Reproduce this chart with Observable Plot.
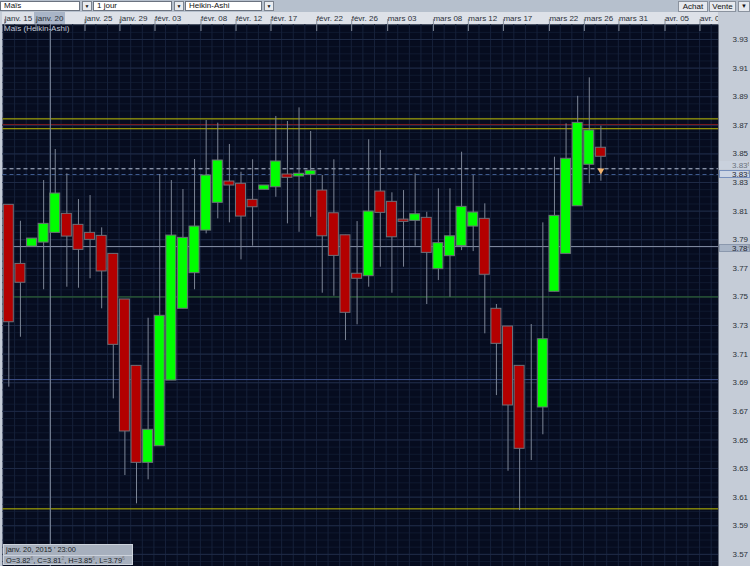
<!DOCTYPE html>
<html><head><meta charset="utf-8">
<script src="https://cdn.jsdelivr.net/npm/d3@7"></script>
<script src="https://cdn.jsdelivr.net/npm/@observablehq/plot@0.6"></script>
<style>
html,body{margin:0;padding:0;}
body{width:750px;height:566px;overflow:hidden;background:#c5ccd7;font-family:"Liberation Sans",Arial,sans-serif;font-size:8px;color:#111;position:relative;}
#toolbar{position:absolute;left:0;top:0;width:750px;height:12px;background:#b6c0cd;}
.dd{position:absolute;top:1px;height:10px;background:#fff;border:1px solid #6b7380;box-sizing:border-box;line-height:8px;padding-left:3px;white-space:nowrap;}
.arr{position:absolute;top:1px;height:10px;width:10px;background:#e9ecf0;border:1px solid #7a828e;box-sizing:border-box;font-size:5px;line-height:8px;text-align:center;}
.btn{position:absolute;top:1px;height:11px;background:#e6e9ee;border:1px solid #8a929e;box-sizing:border-box;line-height:9px;text-align:center;}
#chart{position:absolute;left:0;top:12px;width:750px;height:554px;}
#hdr{position:absolute;left:2px;top:0;width:716px;height:12px;background:#dde1e8;}
#hl{position:absolute;top:0;height:12px;background:#a9b5c7;}
#cover{position:absolute;left:718px;top:0;width:32px;height:12px;background:#c5ccd7;z-index:3;}
#chart svg{position:absolute;left:0;top:0;z-index:2;}
.pbox{position:absolute;left:719px;width:31px;height:8px;box-sizing:border-box;line-height:7px;padding-left:12px;z-index:3;white-space:nowrap;overflow:hidden;}
.pbox sup,.info sup{font-size:5px;vertical-align:top;line-height:5px;color:#777;}
.info{position:absolute;left:3px;top:532px;width:130px;height:21px;background:#a7b0be;border:1px solid #cdd3dc;box-sizing:border-box;z-index:3;color:#1b1f26;font-size:7.4px;}
.info div{height:9.5px;line-height:9.5px;padding-left:2px;white-space:nowrap;}
.info div+div{border-top:1px solid #cdd3dc;}
</style>
</head><body>
<div id="toolbar"></div>
<div id="chart"><div id="hdr"></div><div id="hl"></div><div id="cover"></div></div>
<script>
// ---- data (Heikin-Ashi candles) ----
const open  = [3.8144,3.7731,3.7852,3.7880,3.7948,3.8081,3.8004,3.7948,3.7927,3.7801,3.7482,3.7018,3.6340,3.6456,3.6915,3.7417,3.7666,3.7964,3.8158,3.8307,3.8291,3.8179,3.8249,3.8267,3.8356,3.8342,3.8354,3.8244,3.8085,3.7931,3.7662,3.7645,3.8237,3.8165,3.8041,3.8032,3.8053,3.7694,3.7785,3.7855,3.7992,3.8046,3.7417,3.7293,3.7018,3.6727,3.6727,3.7536,3.7801,3.8134,3.8424,3.8543];
const close = [3.7323,3.7599,3.7908,3.8011,3.8223,3.7922,3.7829,3.7899,3.7678,3.7165,3.6559,3.6340,3.6571,3.7368,3.7929,3.7913,3.7992,3.8349,3.8454,3.8279,3.8062,3.8127,3.8279,3.8447,3.8333,3.8361,3.8382,3.7924,3.7787,3.7389,3.7627,3.8097,3.8088,3.7917,3.8025,3.8078,3.7808,3.7876,3.7924,3.8130,3.8090,3.7655,3.7172,3.6741,3.6438,3.6727,3.7204,3.8067,3.8466,3.8717,3.8664,3.8480];
const high  = [3.8144,3.8029,3.7908,3.8314,3.8531,3.8361,3.8181,3.8209,3.7983,3.7801,3.7482,3.7018,3.7351,3.8356,3.8314,3.8251,3.8461,3.8734,3.8715,3.8566,3.8372,3.8459,3.8279,3.8762,3.8727,3.8822,3.8657,3.8349,3.8459,3.7931,3.8027,3.8599,3.8524,3.8228,3.8244,3.8361,3.8092,3.8256,3.8256,3.8512,3.8349,3.8151,3.7447,3.7293,3.7018,3.7307,3.8018,3.8477,3.8710,3.8903,3.9032,3.8694];
const low   = [3.6869,3.7218,3.7852,3.7550,3.7948,3.7568,3.7561,3.7627,3.7417,3.6787,3.6251,3.6053,3.6221,3.6456,3.6915,3.7417,3.7550,3.7941,3.8046,3.8018,3.7759,3.7855,3.8249,3.8197,3.8011,3.7952,3.8057,3.7526,3.7505,3.7195,3.7305,3.7568,3.7708,3.7526,3.7708,3.7855,3.7447,3.7615,3.7498,3.7824,3.7817,3.7242,3.6810,3.6281,3.6006,3.6356,3.6536,3.7536,3.7801,3.8134,3.8291,3.8309];

// date header: tick positions (in candle slots) and labels
const dateTickPos = [0.05,2.74,6.96,9.97,12.99,16.95,19.97,22.98,26.92,29.93,33.03,36.97,39.98,43.0,46.96,49.97,52.95,56.92,59.93];
const dateTickLabels = ["janv. 15","janv. 20","janv. 25","janv. 29","févr. 03","févr. 08","févr. 12","févr. 17","févr. 22","févr. 26","mars 03","mars 08","mars 12","mars 17","mars 22","mars 26","mars 31","avr. 05","avr. 09"];
const selectedDate = "janv. 20";

// price axis
const priceTicks = [3.57,3.59,3.61,3.63,3.65,3.67,3.69,3.71,3.73,3.75,3.77,3.79,3.81,3.83,3.85,3.87,3.89,3.91,3.93];

// horizontal levels
const yellowLevels = [3.8745, 3.8676, 3.6018];
const redLevels = [3.8706];
const greenLevels = [3.75];
const blueLevels = [3.6922];
const grayLevels = [3.7852];
const bidLevel = [3.8396];
const askLevel = [3.8356];

// price tags on the axis
const tagValues = [3.8396, 3.8356, 3.7852];
const tagTexts = ["3.83", "3.83", "3.78"];
const tagFrac = ["6", "4", "4"];

// crosshair and marker
const crosshairSlot = 4.08;
const markerCandle = 51;
const markerPrice = 3.8384;

const chartTitle = "Maïs (Heikin-Ashi)";
const infoLine1 = "janv. 20, 2015 ' 23:00";
const infoLabels = ["O", "C", "H", "L"];
const infoValues = ["3.82", "3.81", "3.85", "3.79"];
const infoFrac = ["6", "2", "6", "6"];

const toolbarSymbol = "Maïs", toolbarPeriod = "1 jour", toolbarType = "Heikin-Ashi";
const buyLabel = "Achat", sellLabel = "Vente";

// ---- build ----
const candles = open.map((o, i) => ({i, open: o, close: close[i], high: high[i], low: low[i]}));
const fillOf = d => d.close > d.open ? "#00ff00" : d.close < d.open ? "#b30000" : "#c9ced6";
const strokeOf = d => d.close === d.open ? "#c9ced6" : "#6d7079";
const minorGrid = d3.range(712, 789).map(k => k / 200);
const slotGrid = d3.range(0, 62);
const labelByPos = new Map(dateTickPos.map((p, i) => [p, dateTickLabels[i]]));

const plot = Plot.plot({
  width: 750, height: 554,
  marginTop: 12, marginBottom: 0, marginLeft: 2.5, marginRight: 32,
  style: {background: "transparent", fontFamily: "'Liberation Sans', Arial, sans-serif", fontSize: "8px", overflow: "visible"},
  x: {type: "linear", domain: [0, 61.63], axis: null},
  y: {domain: [3.5615, 3.9405], axis: null},
  marks: [
    Plot.frame({fill: "#060c1f", stroke: null}),
    Plot.ruleY(minorGrid, {stroke: "#101a30", strokeWidth: 1}),
    Plot.ruleX(slotGrid, {stroke: "#16213a", strokeWidth: 1}),
    Plot.ruleY(priceTicks, {stroke: "#1f2b47", strokeWidth: 1}),
    Plot.ruleY(yellowLevels, {stroke: "#bfbf00", strokeWidth: 1}),
    Plot.ruleY(redLevels, {stroke: "#7c1c22", strokeWidth: 1}),
    Plot.ruleY(greenLevels, {stroke: "#2e6a2e", strokeWidth: 1}),
    Plot.ruleY(blueLevels, {stroke: "#3d5088", strokeWidth: 1}),
    Plot.ruleY(grayLevels, {stroke: "#8791a6", strokeWidth: 1}),
    Plot.ruleY(bidLevel, {stroke: "#b8c2d6", strokeWidth: 1, strokeDasharray: "4,3"}),
    Plot.ruleY(askLevel, {stroke: "#3e5a8e", strokeWidth: 1, strokeDasharray: "4,3"}),
    Plot.ruleX([crosshairSlot], {stroke: "#7f899c", strokeWidth: 1}),
    Plot.ruleX(candles, {x: d => d.i + 0.5, y1: "low", y2: "high", stroke: "#7c8596", strokeWidth: 1}),
    Plot.rect(candles, {x1: d => d.i + 0.07, x2: d => d.i + 0.93, y1: "open", y2: "close", fill: fillOf, stroke: strokeOf, strokeWidth: 1}),
    Plot.dot([markerPrice], {x: () => markerCandle + 0.5, y: d => d, symbol: "triangle", rotate: 180, r: 2.6, fill: "#f2b36e", stroke: "none"}),
    Plot.text([chartTitle], {frameAnchor: "top-left", text: d => d, dx: 1, dy: 1, lineAnchor: "top", textAnchor: "start", fill: "#c2cad8", fontSize: 8}),
    Plot.axisX(dateTickPos, {anchor: "top", tickSize: 12, tickPadding: 0, stroke: "#848d9b",
      tickFormat: d => labelByPos.get(d), textAnchor: "start", lineAnchor: "middle", dy: 6, dx: 1.2, fill: "#2b3038", fontSize: 8}),
    Plot.axisY(priceTicks, {anchor: "right", tickSize: 0, tickPadding: 14, tickFormat: d => d.toFixed(2), fill: "#2b3038", fontSize: 8})
  ]
});
const chart = document.getElementById("chart");
chart.appendChild(plot);

const xs = plot.scale("x"), ys = plot.scale("y");
// highlighted date cell (crosshair date label)
const si = dateTickLabels.indexOf(selectedDate);
const hl = document.getElementById("hl");
const hx1 = xs.apply(dateTickPos[si]), hxc = xs.apply(crosshairSlot);
hl.style.left = hx1 + "px"; hl.style.width = (2 * (hxc - hx1)) + "px";

// price tags
const tagStyles = [
  {bg: "#c9d1dd", border: "#c9d1dd", color: "#6a717c", off: -7},
  {bg: "#ccd5e4", border: "#7890bd", color: "#1f2530", off: -4},
  {bg: "#a9b5c7", border: "#8b98ad", color: "#1f2530", off: -2}
];
tagValues.forEach((v, k) => {
  const b = document.createElement("div");
  b.className = "pbox";
  const s = tagStyles[k];
  b.style.top = (ys.apply(v) + s.off) + "px";
  b.style.background = s.bg; b.style.border = "1px solid " + s.border; b.style.color = s.color;
  b.innerHTML = tagTexts[k] + "<sup>" + tagFrac[k] + "</sup>";
  chart.appendChild(b);
});

// info box
const info = document.createElement("div");
info.className = "info";
info.innerHTML = "<div>" + infoLine1 + "</div><div>" +
  infoLabels.map((l, k) => l + "=" + infoValues[k] + "<sup>" + infoFrac[k] + "</sup>").join(", ") + "</div>";
chart.appendChild(info);

// toolbar
const tb = document.getElementById("toolbar");
function dd(x, w, label) {
  const d = document.createElement("div"); d.className = "dd";
  d.style.left = x + "px"; d.style.width = w + "px"; d.textContent = label; tb.appendChild(d);
  const a = document.createElement("div"); a.className = "arr";
  a.style.left = (x + w + 2) + "px"; a.textContent = "▼"; tb.appendChild(a);
}
dd(0, 80, toolbarSymbol);
dd(93, 79, toolbarPeriod);
dd(185, 77, toolbarType);
function btn(x, w, label, fs) {
  const b = document.createElement("div"); b.className = "btn";
  b.style.left = x + "px"; b.style.width = w + "px"; b.textContent = label;
  if (fs) b.style.fontSize = fs; tb.appendChild(b);
}
btn(678, 30, buyLabel);
btn(709, 27, sellLabel);
btn(738, 12, "▼", "6px");
</script>
</body></html>
